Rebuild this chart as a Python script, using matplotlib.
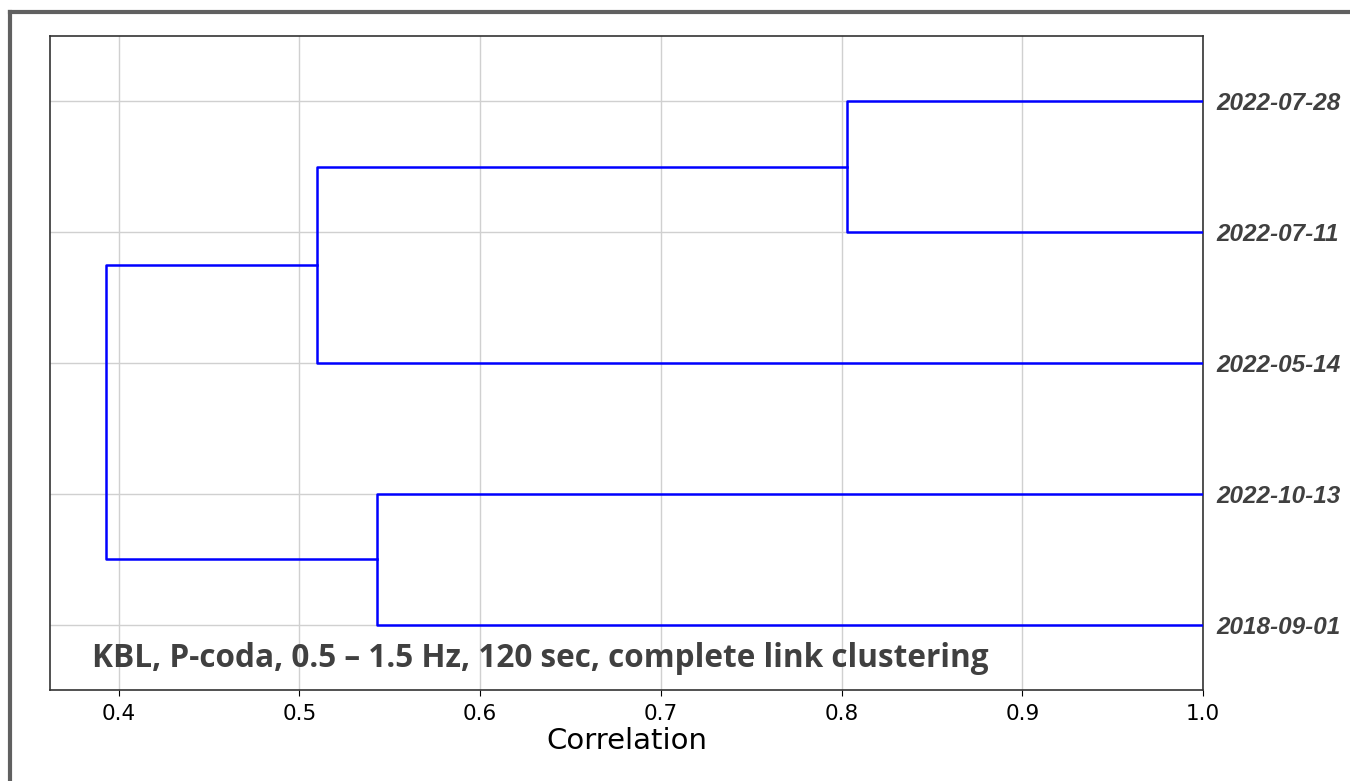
import matplotlib
matplotlib.use("Agg")
import matplotlib.pyplot as plt
from matplotlib.lines import Line2D

# leaves from bottom to top, as the dendrogram lays them out
leaf_labels = ["2018-09-01", "2022-10-13", "2022-05-14", "2022-07-11", "2022-07-28"]
# merges: (child a, child b, correlation); new clusters get ids 5, 6, ...
merge_a = [3, 2, 0, 7]
merge_b = [4, 5, 1, 6]
merge_corr = [0.803, 0.510, 0.543, 0.393]

xticks = [0.4, 0.5, 0.6, 0.7, 0.8, 0.9, 1.0]

fig = plt.figure(figsize=(13.5, 7.81), dpi=100)
ax = fig.add_axes([0.037, 0.1165, 0.8541, 0.8374])

# leaf positions like scipy: 5, 15, 25 ...
ypos = [5 + 10 * i for i in range(len(leaf_labels))]
xpos = [1.0] * len(leaf_labels)
for a, b, h in zip(merge_a, merge_b, merge_corr):
    ax.plot([xpos[a], h, h, xpos[b]], [ypos[a], ypos[a], ypos[b], ypos[b]],
            color="#0000ff", linewidth=1.8, zorder=3)
    ypos.append((ypos[a] + ypos[b]) / 2)
    xpos.append(h)

ax.set_xlim(0.362, 1.0)
ax.set_ylim(0, 10 * len(leaf_labels))
ax.set_xticks(xticks)
ax.set_xticklabels([f"{t:.1f}" for t in xticks], fontsize=15.5)
ax.set_yticks([5 + 10 * i for i in range(len(leaf_labels))])
ax.set_yticklabels(leaf_labels, family="Liberation Sans", fontsize=17.5,
                   fontweight="bold", fontstyle="italic", color="#404040")
ax.yaxis.tick_right()
ax.tick_params(axis="y", length=0, pad=10)
ax.tick_params(axis="x", length=4, pad=6)
ax.grid(True, color="#d0d0d0", linewidth=1)
ax.set_axisbelow(True)
for s in ax.spines.values():
    s.set_color("#333333")
    s.set_linewidth(1.2)
ax.set_xlabel("Correlation", fontsize=21, labelpad=2)

ax.text(0.0364, 0.035, "KBL, P-coda, 0.5 \u2013 1.5 Hz, 120 sec, complete link clustering",
        transform=ax.transAxes, family="Open Sans", fontweight="bold", fontsize=22.7,
        color="#404040", va="baseline", ha="left")

# grey frame along the top and left edge of the picture
fig.add_artist(Line2D([10 / 1350, 10 / 1350], [0, 1 - 12 / 781], transform=fig.transFigure,
                      color="#606060", linewidth=3))
fig.add_artist(Line2D([10 / 1350, 1], [1 - 12 / 781, 1 - 12 / 781], transform=fig.transFigure,
                      color="#606060", linewidth=3))

plt.savefig("out.png", dpi=100)
